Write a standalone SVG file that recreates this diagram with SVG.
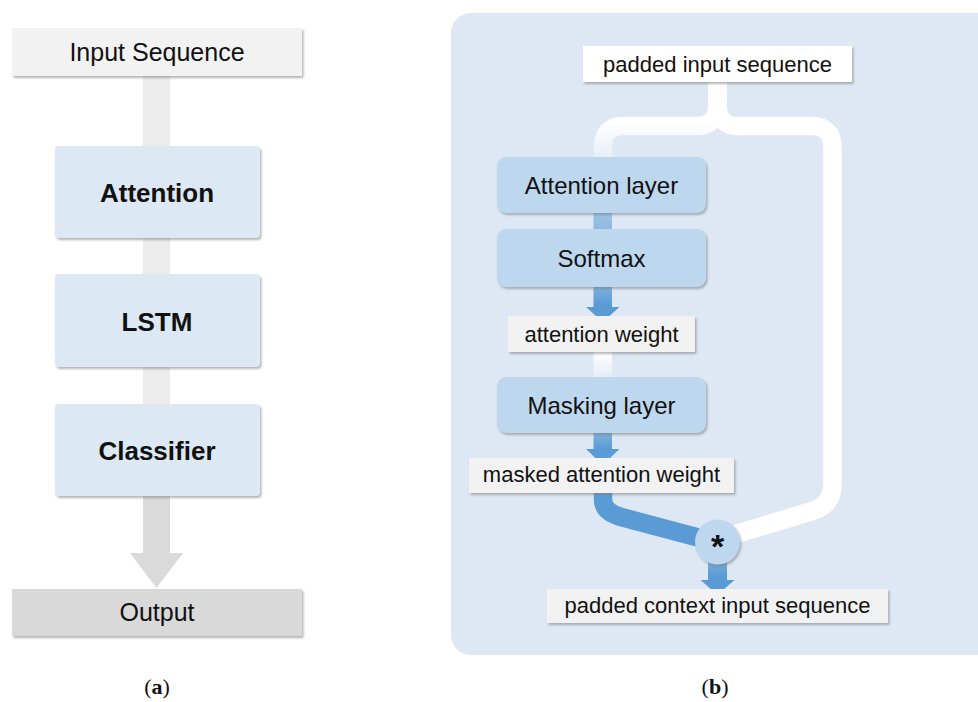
<svg xmlns="http://www.w3.org/2000/svg" width="978" height="702" viewBox="0 0 978 702">
<defs>
<filter id="sh" x="-10%" y="-10%" width="125%" height="140%">
<feDropShadow dx="1.5" dy="2" stdDeviation="1.2" flood-color="#7a7a7a" flood-opacity="0.55"/>
</filter>
<linearGradient id="whiteFade" gradientUnits="userSpaceOnUse" x1="0" y1="122" x2="0" y2="160">
<stop offset="0" stop-color="#ffffff" stop-opacity="1"/>
<stop offset="1" stop-color="#ffffff" stop-opacity="0.25"/>
</linearGradient>
<linearGradient id="whiteFade2" x1="0" y1="0" x2="0" y2="1">
<stop offset="0" stop-color="#ffffff" stop-opacity="1"/>
<stop offset="1" stop-color="#ffffff" stop-opacity="0.2"/>
</linearGradient>
<linearGradient id="blueArrow" x1="0" y1="0" x2="0" y2="1">
<stop offset="0" stop-color="#7eb0de"/>
<stop offset="0.5" stop-color="#5b9bd5"/>
<stop offset="1" stop-color="#5b9bd5"/>
</linearGradient>
<linearGradient id="blueLink" x1="0" y1="0" x2="0" y2="1">
<stop offset="0" stop-color="#9ec3e6"/>
<stop offset="1" stop-color="#8db8e2"/>
</linearGradient>
<style>
.t{font-family:"Liberation Sans",Arial,sans-serif;fill:#111;text-anchor:middle}
.ta{font-size:25px}
.tb{font-size:26px;font-weight:bold}
.tn{font-size:24px}
.ts{font-size:22px}
.cap{font-family:"Liberation Serif","Times New Roman",serif;font-size:22px;fill:#111;text-anchor:middle}
.boxA{fill:#dce8f4;filter:url(#sh)}
.boxB{fill:#bdd7ee;filter:url(#sh)}
.lbl{fill:#f2f2f2;filter:url(#sh)}
.gray{fill:#ececec}
.barrow{fill:url(#blueArrow)}
</style>
</defs>
<rect width="978" height="702" fill="#ffffff"/>

<!-- Panel (a) -->
<g id="connectors-a">
<rect class="gray" x="143" y="76" width="27" height="70"/>
<rect class="gray" x="143" y="238" width="27" height="36"/>
<rect class="gray" x="143" y="367" width="27" height="37"/>
<polygon fill="#dadada" points="143,496 170,496 170,553 183,553 156.5,588 130,553 143,553"/>
</g>
<g id="input-sequence">
<rect class="lbl" x="12" y="28" width="290" height="48"/>
<text class="t ta" x="157" y="61">Input Sequence</text>
</g>
<g id="attention">
<rect class="boxA" x="55" y="146" width="205" height="92" rx="4"/>
<text class="t tb" x="157" y="202">Attention</text>
</g>
<g id="lstm">
<rect class="boxA" x="55" y="274" width="205" height="93" rx="4"/>
<text class="t tb" x="157" y="331">LSTM</text>
</g>
<g id="classifier">
<rect class="boxA" x="55" y="404" width="205" height="92" rx="4"/>
<text class="t tb" x="157" y="460">Classifier</text>
</g>
<g id="output">
<rect fill="#d9d9d9" filter="url(#sh)" x="12" y="589" width="290" height="47"/>
<text class="t ta" x="157" y="621">Output</text>
</g>
<text class="cap" x="157" y="694">(<tspan font-weight="bold">a</tspan>)</text>

<!-- Panel (b) -->
<rect x="451" y="13" width="560" height="642" rx="20" fill="#dde8f4"/>
<g id="connectors-b">
<path d="M717.5,82 L717.5,104 Q717.5,126 697,126 L624,126 Q603,126 603,147 L603,158" fill="none" stroke="url(#whiteFade)" stroke-width="18.5"/>
<path d="M717.5,82 L717.5,104 Q717.5,126 738,126 L811,126 Q832.5,126 832.5,147 L832.5,484 Q832.5,505 812,511 L720,539" fill="none" stroke="#ffffff" stroke-width="18.5"/>
<rect x="593.5" y="213" width="18.5" height="17" fill="url(#blueLink)"/>
<polygon class="barrow" points="593.5,287 612,287 612,307 619.5,307 602.75,322 586,307 593.5,307"/>
<rect x="593.5" y="352" width="18.5" height="25" fill="url(#whiteFade2)"/>
<polygon class="barrow" points="593.5,433 612,433 612,449 619.5,449 602.75,465 586,449 593.5,449"/>
<path d="M603,490 L603,499 Q603,512 621,517 L715,542" fill="none" stroke="#5b9bd5" stroke-width="18.5"/>
<polygon class="barrow" points="708,558 727,558 727,580 734.5,580 717.5,595 700.5,580 708,580"/>
</g>
<g id="padded-input-sequence">
<rect fill="#ffffff" filter="url(#sh)" x="583" y="46" width="269" height="36"/>
<text class="t ts" x="717.5" y="72">padded input sequence</text>
</g>
<g id="attention-layer">
<rect class="boxB" x="497" y="157" width="209" height="56" rx="9"/>
<text class="t tn" x="601.5" y="194">Attention layer</text>
</g>
<g id="softmax">
<rect class="boxB" x="497" y="229" width="209" height="58" rx="9"/>
<text class="t tn" x="601.5" y="267">Softmax</text>
</g>
<g id="attention-weight">
<rect class="lbl" x="508" y="316" width="187" height="36"/>
<text class="t ts" x="601.5" y="342">attention weight</text>
</g>
<g id="masking-layer">
<rect class="boxB" x="497" y="377" width="209" height="56" rx="9"/>
<text class="t tn" x="601.5" y="414">Masking layer</text>
</g>
<g id="masked-attention-weight">
<rect class="lbl" x="469" y="458" width="265" height="35"/>
<text class="t ts" x="601.5" y="482">masked attention weight</text>
</g>
<g id="multiply">
<circle class="boxB" cx="717.5" cy="542" r="22.5"/>
<text class="t" x="717.5" y="558" font-size="34" font-weight="bold">*</text>
</g>
<g id="padded-context-input-sequence">
<rect class="lbl" x="547" y="589" width="341" height="34"/>
<text class="t ts" x="717.5" y="613">padded context input sequence</text>
</g>
<text class="cap" x="715" y="694">(<tspan font-weight="bold">b</tspan>)</text>
</svg>
